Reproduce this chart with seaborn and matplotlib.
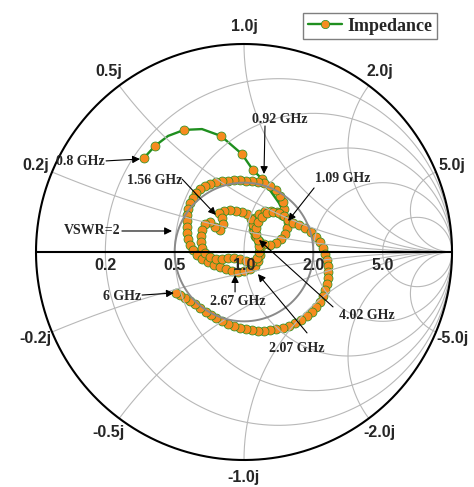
import numpy as np
import pandas as pd
import matplotlib
matplotlib.use("Agg")
import matplotlib.pyplot as plt
from matplotlib.lines import Line2D
import seaborn as sns

# reflection coefficient of the measured input impedance, 0.8 GHz -> 6 GHz
gamma_re = [
    -0.481, -0.428, -0.365, -0.288, -0.202, -0.111, -0.010, 0.043, 0.087,   # 0.8 -> 0.92 GHz
    0.168, 0.212,                                                           # -> 1.09 GHz
    0.207, 0.197, 0.178, 0.154, 0.125, 0.096, 0.072, 0.053, 0.043, 0.043,
    0.053, 0.072, 0.101, 0.130, 0.159, 0.183,
    0.192, 0.188, 0.173, 0.154, 0.125, 0.096, 0.067, 0.038, 0.010, -0.019,
    -0.048, -0.077, -0.106, -0.135, -0.163, -0.188, -0.212, -0.231, -0.245, -0.260,
    -0.269, -0.274, -0.274, -0.274, -0.274, -0.269, -0.260, -0.245,
    -0.226, -0.202, -0.173, -0.144, -0.115, -0.087, -0.058, -0.029, 0.000, 0.029,
    0.053, 0.067, 0.077, 0.077, 0.072, 0.058, 0.048, 0.043, 0.034, 0.014,
    -0.010, -0.038, -0.067, -0.096, -0.120,
    -0.106, -0.101, -0.115, -0.139, -0.163, -0.188, -0.202, -0.207, -0.207, -0.202,
    -0.188, -0.163, -0.135, -0.106, -0.077, -0.048, -0.019, 0.010, 0.038,
    0.063, 0.072, 0.072, 0.067, 0.058, 0.058, 0.067, 0.087, 0.111, 0.139,
    0.168, 0.192, 0.212,
    0.236, 0.264, 0.293, 0.322, 0.346, 0.365, 0.380, 0.389, 0.399, 0.404,
    0.404, 0.404, 0.399, 0.389, 0.380, 0.365, 0.346, 0.327, 0.303, 0.274,
    0.245, 0.216, 0.188, 0.154, 0.125, 0.096, 0.067, 0.038, 0.010, -0.019,
    -0.048, -0.077, -0.106, -0.135, -0.159, -0.183, -0.212, -0.236, -0.260, -0.284,
    -0.308, -0.327,
]
gamma_im = [
    0.452, 0.510, 0.558, 0.587, 0.591, 0.558, 0.471, 0.394, 0.351,
    0.236, 0.144,
    0.115, 0.087, 0.063, 0.043, 0.034, 0.038, 0.053, 0.077, 0.106, 0.135,
    0.163, 0.183, 0.197, 0.197, 0.192, 0.178,
    0.207, 0.240, 0.269, 0.298, 0.317, 0.332, 0.337, 0.341, 0.341, 0.346,
    0.346, 0.341, 0.341, 0.337, 0.327, 0.317, 0.303, 0.284, 0.260, 0.236,
    0.207, 0.178, 0.149, 0.120, 0.091, 0.063, 0.034, 0.010,
    -0.014, -0.034, -0.048, -0.063, -0.072, -0.082, -0.091, -0.096, -0.091, -0.082,
    -0.067, -0.043, -0.014, 0.014, 0.043, 0.072, 0.101, 0.130, 0.159, 0.183,
    0.192, 0.197, 0.202, 0.197, 0.188,
    0.163, 0.135, 0.106, 0.120, 0.144, 0.135, 0.106, 0.077, 0.048, 0.019,
    -0.005, -0.024, -0.034, -0.034, -0.029, -0.029, -0.034, -0.043, -0.048,
    -0.029, 0.000, 0.029, 0.058, 0.087, 0.115, 0.144, 0.168, 0.188, 0.192,
    0.188, 0.173, 0.154,
    0.139, 0.130, 0.115, 0.096, 0.072, 0.048, 0.019, -0.010, -0.038, -0.067,
    -0.096, -0.125, -0.154, -0.183, -0.212, -0.240, -0.264, -0.288, -0.308, -0.327,
    -0.341, -0.356, -0.365, -0.370, -0.375, -0.380, -0.380, -0.375, -0.370, -0.365,
    -0.356, -0.346, -0.332, -0.317, -0.303, -0.288, -0.269, -0.250, -0.236, -0.221,
    -0.207, -0.197,
]
# points read off the green trace where the original has no marker
line_only = [2, 4, 9]

r_values = [0.2, 0.5, 1.0, 2.0, 5.0]
x_values = [0.2, 0.5, 1.0, 2.0, 5.0]
r_labels = ["0.2", "0.5", "1.0", "2.0", "5.0"]
x_labels = ["0.2j", "0.5j", "1.0j", "2.0j", "5.0j"]
x_labels_neg = ["-0.2j", "-0.5j", "-1.0j", "-2.0j", "-5.0j"]
vswr = 2

# %%

sns.set_style("white")
plt.rcParams["font.family"] = ["Liberation Sans", "DejaVu Sans"]

GREEN = "#1f8f1f"
ORANGE = "#f68b1f"
GRID = "#b8b8b8"

df = pd.DataFrame({"re": gamma_re, "im": gamma_im})
df["marker"] = [i not in line_only for i in range(len(df))]

fig = plt.figure(figsize=(4.74, 4.87), dpi=100)
ax = fig.add_axes([0, 0, 1, 1])
# chart centre at pixel (244, 252), unit circle radius 208 px
ax.set_xlim(-244 / 208, (474 - 244) / 208)
ax.set_ylim((252 - 487) / 208, 252 / 208)
ax.axis("off")

t = np.linspace(0, 2 * np.pi, 600)

# constant resistance circles
for r in r_values:
    c, rad = r / (1 + r), 1 / (1 + r)
    ax.plot(c + rad * np.cos(t), rad * np.sin(t), color=GRID, lw=0.8, zorder=5)

# constant reactance arcs
rr = np.concatenate([[0], np.geomspace(1e-3, 1e4, 800)])
for x in x_values:
    for s in (1, -1):
        z = rr + 1j * s * x
        g = (z - 1) / (z + 1)
        ax.plot(g.real, g.imag, color=GRID, lw=0.8, zorder=5)

# trace
sns.lineplot(data=df, x="re", y="im", sort=False, estimator=None,
             color=GREEN, lw=1.7, ax=ax, zorder=3)
sns.scatterplot(data=df[df["marker"]], x="re", y="im", s=42, color=ORANGE,
                edgecolor=GREEN, linewidth=0.5, ax=ax, zorder=4, legend=False)
ax.set_xlabel("")
ax.set_ylabel("")

# VSWR circle
rho = (vswr - 1) / (vswr + 1)
ax.plot(rho * np.cos(t), rho * np.sin(t), color="#8a8a8a", lw=1.4, zorder=6)

# outer circle and real axis
ax.plot(np.cos(t), np.sin(t), color="black", lw=1.5, zorder=7)
ax.plot([-1, 1], [0, 0], color="black", lw=1.5, zorder=7)

lab = dict(fontsize=11.5, fontweight="bold", ha="center", va="center", zorder=8)
for r, txt in zip(r_values, r_labels):
    ax.text((r - 1) / (r + 1), -0.067, txt, **lab)
for x, tp, tn in zip(x_values, x_labels, x_labels_neg):
    g = (1j * x - 1) / (1j * x + 1)
    ax.text(1.085 * g.real, 1.085 * g.imag, tp, **lab)
    ax.text(1.085 * g.real, -1.085 * g.imag, tn, **lab)

# frequency call-outs: text, text position, arrow start, arrow tip
notes = [
    ("0.8 GHz", (-0.668, 0.433, "right"), (-0.663, 0.438), (-0.500, 0.447)),
    ("0.92 GHz", (0.173, 0.639, "center"), (0.101, 0.606), (0.096, 0.375)),
    ("1.09 GHz", (0.476, 0.351, "center"), (0.337, 0.308), (0.212, 0.149)),
    ("1.56 GHz", (-0.428, 0.346, "center"), (-0.298, 0.351), (-0.135, 0.178)),
    ("VSWR=2", (-0.731, 0.101, "center"), (-0.587, 0.101), (-0.346, 0.101)),
    ("6 GHz", (-0.587, -0.212, "center"), (-0.490, -0.207), (-0.337, -0.197)),
    ("2.67 GHz", (-0.029, -0.236, "center"), (-0.043, -0.192), (-0.043, -0.111)),
    ("2.07 GHz", (0.255, -0.462, "center"), (0.303, -0.389), (0.067, -0.106)),
    ("4.02 GHz", (0.591, -0.303, "center"), (0.428, -0.264), (0.072, 0.058)),
]
for txt, (tx, ty, ha), start, tip in notes:
    ax.text(tx, ty, txt, family=["Liberation Serif", "DejaVu Serif"], fontsize=10,
            fontweight="bold", ha=ha, va="center", zorder=9)
    ax.annotate("", xy=tip, xytext=start, zorder=9,
                arrowprops=dict(arrowstyle="-|>", color="black", lw=0.8,
                                mutation_scale=11, shrinkA=0, shrinkB=0))

handle = Line2D([], [], color=GREEN, lw=1.7, marker="o", ms=6,
                mfc=ORANGE, mec=GREEN, mew=0.5)
leg = ax.legend([handle], ["Impedance"], loc="upper right",
                bbox_to_anchor=(437 / 474, 1 - 13 / 487), bbox_transform=fig.transFigure,
                frameon=True, fancybox=False, edgecolor="#7f7f7f", framealpha=1,
                prop=dict(family="Liberation Serif", weight="bold", size=13),
                handlelength=1.9, borderpad=0.25, handletextpad=0.3, borderaxespad=0)
leg.get_frame().set_linewidth(1.0)

fig.savefig("out.png", dpi=100)
